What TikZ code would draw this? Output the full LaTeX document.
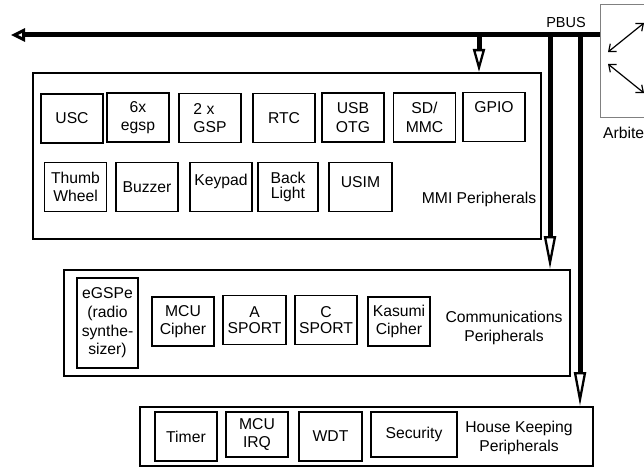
\documentclass[tikz,border=0pt]{standalone}
\usepackage{fontspec}
\setmainfont{Liberation Sans}
\usetikzlibrary{arrows.meta, positioning}

\begin{document}
\begin{tikzpicture}[
  x=1pt, y=-1pt,
  font=\fontsize{15.7}{18.6}\selectfont,
  blk/.style={draw, line width=1.3pt, minimum width=62pt, minimum height=49pt,
              inner sep=0pt, align=center},
  grp/.style={draw, line width=2pt, inner sep=0pt},
  arb/.style={draw=gray, line width=0.8pt, minimum width=90pt, minimum height=113pt},
  lift/.style={text depth=#1},
  bus/.style={line width=5pt, -{Triangle[open, length=14pt, width=13pt, line width=3pt]}},
  tap/.style={line width=5pt, -{Triangle[open, length=#1, width=12pt, line width=2.3pt]}},
  dbl/.style={line width=1.2pt,
              {Straight Barb[length=6pt, width=10pt]}-{Straight Barb[length=6pt, width=10pt]}},
]
\useasboundingbox (0,0) rectangle (644,468);

\node[grp, minimum width=508pt, minimum height=166pt] (mmi)  at (287,156) {};
\node[grp, minimum width=506pt, minimum height=106pt] (comm) at (317,323) {};
\node[grp, minimum width=453pt, minimum height=59pt]  (hk)   at (366.5,436.5) {};

% MMI peripherals
\node[blk] (usc)   at (72,118.5)  {USC};
\node[blk] (egsp)  at (138,117.5) {6x\\ egsp};
\node[blk, align=left] (gsp) at (210,118) {2 x\\ GSP};
\node[blk] (rtc)   at (284,118)   {RTC};
\node[blk] (usb)   at (353,117.5) {USB\\ OTG};
\node[blk] (sdmmc) at (424.5,117.5) {SD/\\ MMC};
\node[blk, lift=20pt] (gpio) at (494,117) {GPIO};
\node[blk] (thumb) at (75.5,187)  {Thumb\\ Wheel};
\node[blk] (buzz)  at (147,187)   {Buzzer};
\node[blk, lift=14pt] (keypad) at (221,187) {Keypad};
\node[blk, minimum width=60pt] (back) at (288,187) {Back\\[-3pt] Light};
\node[blk, minimum width=63pt, lift=10pt] (usim) at (360.5,187) {USIM};
\node (mmilbl) at (479,199.5) {MMI Peripherals};

% communications peripherals
\node[blk, minimum width=61pt, minimum height=90pt] (egspe) at (107.5,323)
  {eGSPe\\ (radio\\ synthe-\\ sizer)};
\node[blk] (mcuc)   at (183,321.5) {MCU\\ Cipher};
\node[blk, minimum width=63pt] (asport) at (254.5,320) {A\\[-2pt] SPORT};
\node[blk] (csport) at (326,320)   {C\\[-2pt] SPORT};
\node[blk] (kasumi) at (399,321.5) {Kasumi\\ Cipher};
\node[align=center] (commlbl) at (504,328) {Communications\\ Peripherals};

% house keeping peripherals
\node[blk] (timer) at (186,436.5) {Timer};
\node[blk, minimum height=45pt] (irq) at (257,434.5) {MCU\\ IRQ};
\node[blk, minimum width=63pt] (wdt) at (330.5,436.5) {WDT};
\node[blk, minimum width=86pt, minimum height=45pt] (sec) at (414,434.5) {Security};
\node[align=center] (hklbl) at (519,438) {House Keeping\\ Peripherals};

% bus and arbiter
\node[arb] (arbiter) at (645,60.5) {};
\node[anchor=west, inner sep=0pt] (arblbl) at (603,133) {Arbiter};
\node[font=\fontsize{14.5}{17}\selectfont] (pbuslbl) at (566,22.5) {PBUS};

\coordinate (busend)  at (11,35);
\coordinate (tapmmi)  at (479,35);
\coordinate (tapcomm) at (550,35);
\coordinate (taphk)   at (580,35);
\draw[bus] (arbiter.west |- busend) -- (busend);
\draw[tap=23pt] (tapmmi)  -- (tapmmi |- mmi.north);
\draw[tap=33pt] (tapcomm) -- (tapcomm |- comm.north);
\draw[tap=34pt] (taphk)   -- (taphk |- hk.north);

\coordinate (a1) at (608,52);
\coordinate (a2) at (644,23);
\coordinate (a3) at (608,64);
\coordinate (a4) at (644,93);
\draw[dbl] (a1) -- (a2);
\draw[dbl] (a3) -- (a4);
\end{tikzpicture}
\end{document}
